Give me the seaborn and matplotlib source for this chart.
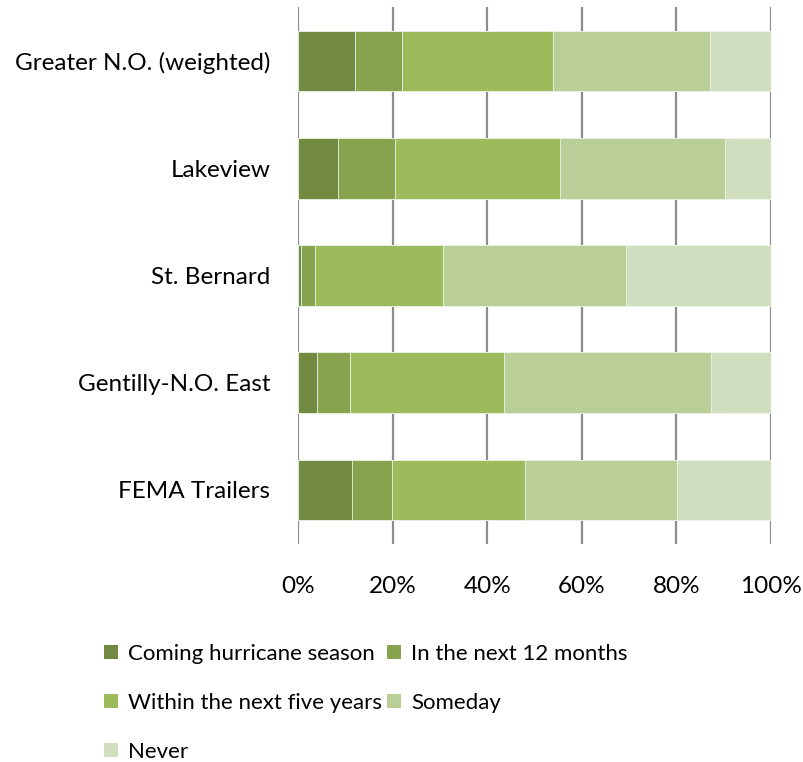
import matplotlib
matplotlib.use("Agg")
import matplotlib.pyplot as plt
from matplotlib.patches import Patch
import seaborn as sns
import pandas as pd
import numpy as np

areas = ["Greater N.O. (weighted)", "Lakeview", "St. Bernard", "Gentilly-N.O. East", "FEMA Trailers"]
series = ["Coming hurricane season", "In the next 12 months", "Within the next five years", "Someday", "Never"]
coming = [12.0, 8.5, 0.6, 4.1, 11.5]
next12 = [10.0, 12.0, 2.9, 6.9, 8.3]
five_years = [32.0, 34.9, 27.1, 32.5, 28.1]
someday = [33.0, 34.9, 38.7, 43.9, 32.3]
never = [13.0, 9.7, 30.7, 12.6, 19.8]
colors = ["#738a42", "#88a34e", "#9cbb5a", "#bacf98", "#d1ddbf"]
tick_labels = ["0%", "20%", "40%", "60%", "80%", "100%"]

sns.set_theme(style="white")
plt.rcParams["font.family"] = ["Lato", "DejaVu Sans"]
plt.rcParams["text.color"] = "black"
plt.rcParams["xtick.color"] = "black"
plt.rcParams["ytick.color"] = "black"

vals = np.array([coming, next12, five_years, someday, never])
cum = np.cumsum(vals, axis=0)
rows = []
for si, s in enumerate(series):
    for ai, a in enumerate(areas):
        rows.append({"area": a, "series": s, "cum": cum[si, ai]})
df = pd.DataFrame(rows)

FS = 17.5
LFS = 16.0

fig = plt.figure(figsize=(8.04, 7.62), dpi=100)
ax = fig.add_axes([298 / 804, 1 - 543.6 / 762, (771 - 298) / 804, (543.6 - 7.4) / 762])

for x in range(0, 101, 20):
    ax.axvline(x, color="#8c8c8c", lw=1.6, zorder=0)

for si in range(len(series) - 1, -1, -1):
    sub = df[df["series"] == series[si]]
    sns.barplot(data=sub, x="cum", y="area", order=areas, color=colors[si],
                width=0.565, orient="h", ax=ax, edgecolor="#f0f4ea",
                linewidth=0.6, saturation=1, zorder=2)

ax.set_xlim(0, 100)
ax.set_ylim(4.5, -0.5)
ax.set_xticks(range(0, 101, 20))
ax.set_xticklabels(tick_labels)
ax.set_xlabel("")
ax.set_ylabel("")
for sp in ax.spines.values():
    sp.set_visible(False)
ax.tick_params(axis="x", length=0, pad=23, labelsize=FS, colors="#000000")
ax.tick_params(axis="y", length=0, pad=20, labelsize=FS, colors="#000000")
ax.grid(False)

handles = [Patch(facecolor=c, edgecolor="none") for c in colors]
order = [0, 2, 4, 1, 3]
leg = fig.legend([handles[i] for i in order], [series[i] for i in order],
                 loc="upper left", bbox_to_anchor=(104 / 804, 1 - 644 / 762),
                 ncol=2, frameon=False, fontsize=LFS,
                 handlelength=0.62, handleheight=0.62, handletextpad=0.45,
                 columnspacing=0.25, labelspacing=1.3, borderaxespad=0, borderpad=0)
for t in leg.get_texts():
    t.set_color("black")

fig.savefig("out.png", dpi=100, facecolor="white")
